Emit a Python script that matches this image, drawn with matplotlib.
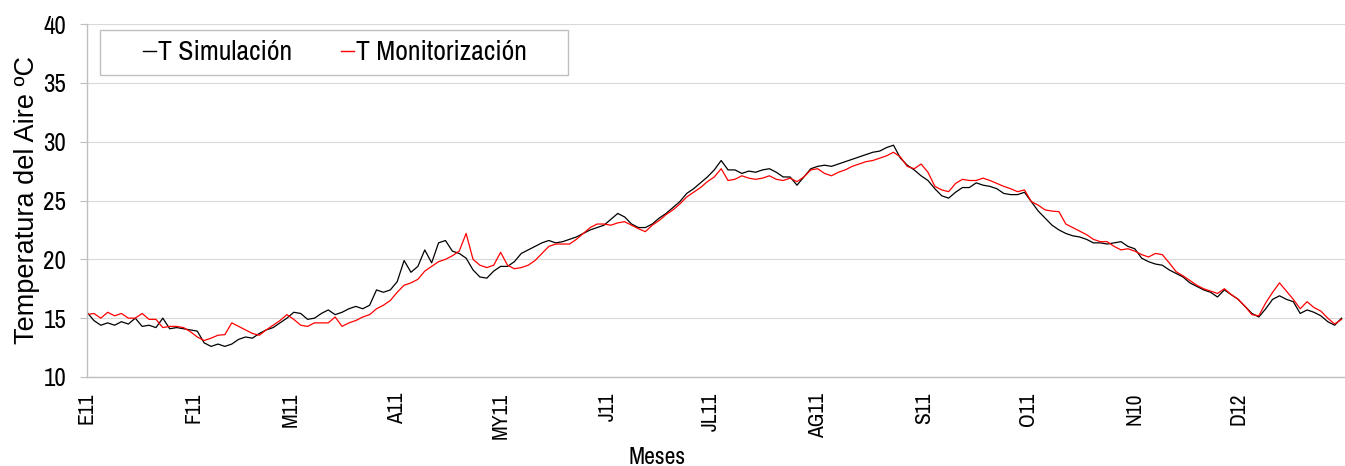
import numpy as np
import matplotlib
matplotlib.use("Agg")
import matplotlib.pyplot as plt
from matplotlib import font_manager
from matplotlib.patches import Rectangle

# dias del año (muestra cada 2 dias)
dias = np.arange(0, 365, 2)

t_simulacion = [
    15.5, 14.8, 14.4, 14.6, 14.4,
    14.7, 14.5, 15.0, 14.3, 14.4,
    14.2, 15.0, 14.1, 14.2, 14.1,
    14.0, 13.9, 12.9, 12.6, 12.8,
    12.6, 12.8, 13.2, 13.4, 13.3,
    13.7, 14.0, 14.2, 14.6, 15.0,
    15.5, 15.4, 14.9, 15.0, 15.4,
    15.7, 15.3, 15.5, 15.8, 16.0,
    15.8, 16.1, 17.4, 17.2, 17.4,
    18.1, 19.9, 18.9, 19.4, 20.8,
    19.7, 21.4, 21.6, 20.7, 20.5,
    20.1, 19.1, 18.5, 18.4, 19.0,
    19.4, 19.4, 19.8, 20.5, 20.8,
    21.1, 21.4, 21.6, 21.4, 21.5,
    21.7, 21.9, 22.2, 22.5, 22.7,
    22.9, 23.4, 23.9, 23.6, 23.0,
    22.7, 22.7, 23.0, 23.5, 23.9,
    24.4, 24.9, 25.6, 26.0, 26.5,
    27.0, 27.6, 28.4, 27.6, 27.6,
    27.3, 27.5, 27.4, 27.6, 27.7,
    27.4, 27.0, 27.0, 26.3, 27.0,
    27.7, 27.9, 28.0, 27.9, 28.1,
    28.3, 28.5, 28.7, 28.9, 29.1,
    29.2, 29.5, 29.7, 28.6, 28.0,
    27.6, 27.1, 26.7, 26.0, 25.4,
    25.2, 25.7, 26.1, 26.1, 26.5,
    26.3, 26.2, 26.0, 25.6, 25.5,
    25.5, 25.7, 24.9, 24.1, 23.5,
    22.9, 22.5, 22.2, 22.0, 21.9,
    21.7, 21.4, 21.4, 21.3, 21.4,
    21.5, 21.1, 20.9, 20.1, 19.8,
    19.6, 19.5, 19.1, 18.8, 18.5,
    18.0, 17.7, 17.4, 17.2, 16.8,
    17.4, 17.0, 16.6, 16.0, 15.4,
    15.1, 15.8, 16.6, 16.9, 16.6,
    16.4, 15.4, 15.7, 15.5, 15.2,
    14.7, 14.4, 15.0,
]

t_monitorizacion = [
    15.3, 15.4, 15.0, 15.5, 15.2,
    15.4, 15.0, 15.0, 15.4, 14.9,
    14.9, 14.2, 14.3, 14.3, 14.2,
    13.85, 13.4, 13.1, 13.3, 13.55,
    13.6, 14.6, 14.3, 14.0, 13.7,
    13.55, 14.0, 14.4, 14.8, 15.3,
    14.9, 14.4, 14.3, 14.6, 14.6,
    14.6, 15.1, 14.3, 14.6, 14.8,
    15.1, 15.3, 15.8, 16.1, 16.5,
    17.2, 17.8, 18.0, 18.3, 19.0,
    19.4, 19.8, 20.0, 20.3, 20.7,
    22.2, 20.0, 19.5, 19.3, 19.5,
    20.6, 19.5, 19.2, 19.3, 19.5,
    19.9, 20.5, 21.1, 21.3, 21.3,
    21.3, 21.7, 22.2, 22.7, 23.0,
    23.0, 22.9, 23.1, 23.2, 22.9,
    22.6, 22.35, 22.9, 23.3, 23.8,
    24.2, 24.7, 25.3, 25.7, 26.1,
    26.6, 27.0, 27.7, 26.7, 26.8,
    27.1, 26.9, 26.8, 26.9, 27.1,
    26.8, 26.7, 26.9, 26.6, 27.0,
    27.6, 27.7, 27.3, 27.1, 27.4,
    27.6, 27.9, 28.1, 28.3, 28.4,
    28.6, 28.8, 29.1, 28.7, 27.9,
    27.7, 28.1, 27.4, 26.2, 25.9,
    25.75, 26.45, 26.8, 26.7, 26.7,
    26.9, 26.7, 26.45, 26.2, 26.0,
    25.75, 25.9, 24.9, 24.6, 24.2,
    24.1, 24.05, 23.0, 22.7, 22.4,
    22.1, 21.7, 21.5, 21.5, 21.1,
    20.8, 20.9, 20.7, 20.4, 20.2,
    20.5, 20.4, 19.7, 18.95, 18.6,
    18.2, 17.8, 17.5, 17.3, 17.1,
    17.5, 17.0, 16.6, 16.0, 15.3,
    15.2, 16.3, 17.2, 18.0, 17.3,
    16.6, 15.8, 16.4, 15.9, 15.6,
    15.0, 14.5, 14.9,
]

meses = ['E11', 'F11', 'M11', 'A11', 'MY11', 'J11', 'JL11', 'AG11', 'S11', 'O11', 'N10', 'D12']
inicio_mes = [0, 31, 59, 90, 120, 151, 181, 212, 243, 273, 304, 334]

# fuente estrecha tipo Arial Narrow (la primera que haya)
names = {f.name for f in font_manager.fontManager.ttflist}
narrow = 'Liberation Sans'
for cand in ['Liberation Sans Narrow', 'Arial Narrow', 'Archivo Narrow', 'Roboto Condensed',
             'PT Sans Narrow', 'Pragati Narrow', 'Encode Sans Condensed']:
    if cand in names:
        narrow = cand
        break
plt.rcParams['font.family'] = ['Liberation Sans', 'DejaVu Sans']

fig = plt.figure(figsize=(13.45, 4.66), dpi=100)
ax = fig.add_axes([87 / 1345, 1 - 377 / 466, 1 - 87 / 1345, (377 - 24) / 466])

ax.plot(dias, t_simulacion, color='black', lw=0.9, label='T Simulación')
ax.plot(dias, t_monitorizacion, color='red', lw=0.9, label='T Monitorización')

ax.set_xlim(0, 365)
ax.set_ylim(10, 40)
ax.set_yticks(range(10, 41, 5))
ax.set_yticklabels([str(v) for v in range(10, 41, 5)], family=narrow, fontsize=18)
ax.set_xticks(inicio_mes)
ax.set_xticklabels(meses, rotation=90, family=narrow, fontsize=15.5)
ax.tick_params(axis='x', length=0, pad=11.5)
ax.tick_params(axis='y', length=5, color='#bfbfbf', pad=10)
ax.grid(axis='y', color='#d9d9d9', lw=0.8)
ax.set_axisbelow(True)
for s in ['top', 'right']:
    ax.spines[s].set_visible(False)
for s in ['left', 'bottom']:
    ax.spines[s].set_color('#bfbfbf')
    ax.spines[s].set_linewidth(1.0)

ax.set_ylabel('Temperatura del Aire ºC', fontsize=19.5)
ax.yaxis.set_label_coords(-(87 - 40) / 1258, 0.5)
fig.text(657 / 1345, 1 - 458 / 466, 'Meses', family=narrow, fontsize=17,
         ha='center', va='center')

# leyenda con marco
ax.add_patch(Rectangle(((100 - 87) / 1258, (377 - 75) / 353), 468 / 1258, 45 / 353,
                       transform=ax.transAxes, fill=False, edgecolor='#bfbfbf', lw=1.0,
                       zorder=5))
leg = ax.legend(loc='center left', bbox_to_anchor=((143 - 87) / 1258, (377 - 53) / 353),
                ncol=2, frameon=False, handlelength=0.45, handletextpad=0.1,
                columnspacing=1.75, borderaxespad=0, borderpad=0,
                prop={'family': narrow, 'size': 20})
for line in leg.get_lines():
    line.set_linewidth(1.0)

fig.savefig('out.png', dpi=100)
